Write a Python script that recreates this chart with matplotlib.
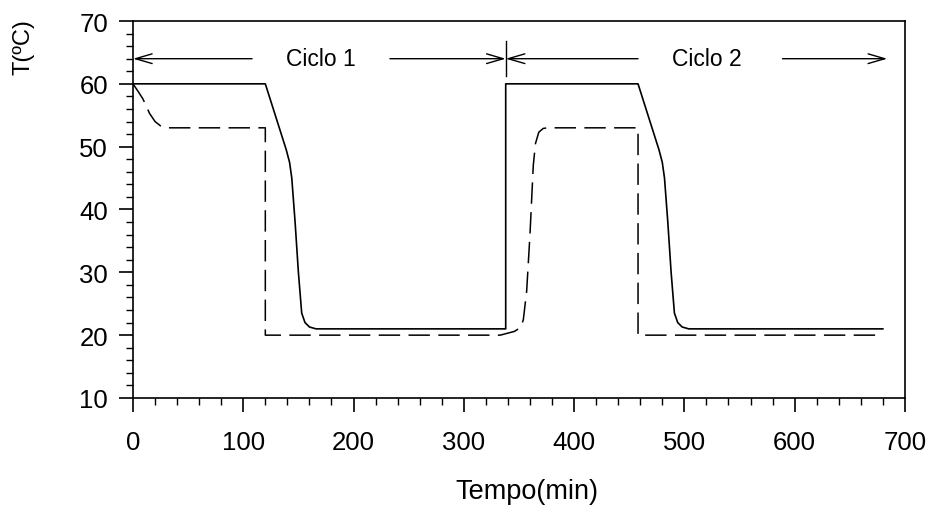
import matplotlib.pyplot as plt

plt.rcParams['font.family'] = ['Liberation Sans', 'DejaVu Sans']

# Curva contínua (temperatura do ar)
t_ar = [0, 120, 139, 142, 144, 147, 150, 153, 156, 160, 166, 338, 338,
        458, 477, 480, 482, 485, 488, 491, 494, 498, 504, 680]
T_ar = [60, 60, 49.5, 47.5, 45, 38, 30, 23.5, 22, 21.3, 21, 21, 60,
        60, 49.5, 47.5, 45, 38, 30, 23.5, 22, 21.3, 21, 21]

# Curva tracejada (temperatura do produto)
t_prod = [0, 5, 9, 15, 20, 25, 30, 120, 120, 333, 346, 352, 354, 357, 360,
          363, 365, 368, 372, 376, 458, 458, 680]
T_prod = [60, 58.7, 57.6, 55.3, 54, 53.3, 53, 53, 20, 20, 20.6, 21.3, 22.5, 27, 36,
          47, 50.5, 52.3, 52.9, 53, 53, 20, 20]

# Setas dos ciclos
y_seta = 64
ciclos = ['Ciclo 1', 'Ciclo 2']
x_texto = [170, 520]
setas = [(108, 0), (233, 338), (458, 338), (589, 684)]  # (início, ponta)
x_divisao = 338

fig = plt.figure(figsize=(9.3, 5.06), dpi=100)
ax = fig.add_axes([0.143, 0.2115, 0.830, 0.745])

ax.plot(t_ar, T_ar, '-', color='black', linewidth=1.2)
ax.plot(t_prod, T_prod, color='black', linewidth=1.1, dashes=(14, 5.5))

for x0, x1 in setas:
    ax.annotate('', xy=(x1, y_seta), xytext=(x0, y_seta),
                arrowprops=dict(arrowstyle='->,head_length=1.2,head_width=0.35',
                                color='black', linewidth=1.0,
                                shrinkA=0, shrinkB=0))
ax.plot([x_divisao, x_divisao], [61.2, 66.8], color='black', linewidth=1.0)

for nome, xt in zip(ciclos, x_texto):
    ax.text(xt, y_seta, nome, ha='center', va='center', fontsize=16.5)

ax.set_xlim(0, 700)
ax.set_ylim(10, 70)
ax.set_xticks(range(0, 701, 100))
ax.set_xticks(range(0, 701, 20), minor=True)
ax.set_yticks(range(10, 71, 10))
ax.set_yticks(range(10, 71, 2), minor=True)

ax.tick_params(which='both', direction='out', top=False, right=False)
ax.tick_params(which='major', length=10, width=1.2, labelsize=18.5)
ax.tick_params(which='minor', length=5, width=1.0)
ax.tick_params(axis='x', which='major', pad=13)
ax.tick_params(axis='y', which='major', pad=8)

for s in ax.spines.values():
    s.set_linewidth(1.2)

ax.set_xlabel('Tempo(min)', fontsize=19.5)
ax.set_ylabel('T(ºC)', fontsize=17)
ax.xaxis.set_label_coords(0.51, -0.212)
ax.yaxis.set_label_coords(-0.128, 0.934)

fig.savefig('out.png', dpi=100, facecolor='white')
plt.close()
